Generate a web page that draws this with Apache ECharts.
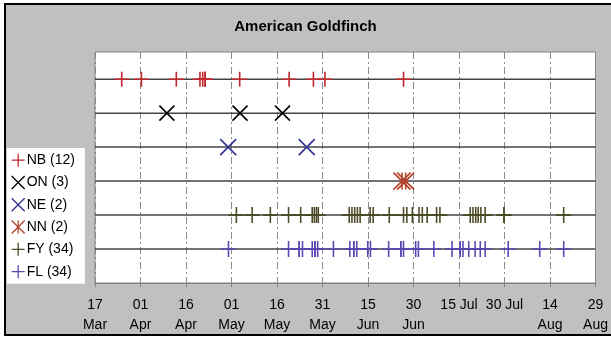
<!DOCTYPE html>
<html>
<head>
<meta charset="utf-8">
<script src="https://cdn.jsdelivr.net/npm/echarts@6/dist/echarts.min.js"></script>
<style>
  html, body { margin: 0; padding: 0; background: #fff; }
  #chart { width: 611px; height: 339px; }
</style>
</head>
<body>
<div id="chart"></div>
<script>
// x values are days counted from 17 Mar
var tickLabels = ['17\nMar', '01\nApr', '16\nApr', '01\nMay', '16\nMay', '31\nMay', '15\nJun', '30\nJun', '15 Jul', '30 Jul', '14\nAug', '29\nAug'];

var groupNames = ['NB (12)', 'ON (3)', 'NE (2)', 'NN (2)', 'FY (34)', 'FL (34)'];
var groupRows = [6, 5, 4, 3, 2, 1];

var nbDays = [8.8, 15.3, 26.8, 34.6, 35.5, 36.3, 36.3, 47.7, 64.0, 72.0, 75.8, 101.7];
var onDays = [23.7, 47.8, 61.8];
var neDays = [43.9, 69.8];
var nnDays = [101.2, 102.4];
var fyDays = [46.6, 51.8, 57.8, 63.8, 67.8, 71.6, 72.3, 73.0, 73.6, 83.8, 84.7, 85.6, 86.5, 87.4,
              90.7, 91.7, 97.0, 101.7, 102.8, 104.6, 106.8, 107.9, 109.5, 112.6, 113.7,
              123.7, 124.6, 125.5, 126.3, 127.2, 128.6, 134.8, 134.8, 154.5];
var flDays = [44.0, 63.8, 67.3, 67.3, 68.4, 71.6, 72.5, 72.5, 73.4, 78.6, 84.0, 85.3, 85.3, 86.3,
              89.9, 90.8, 96.8, 100.8, 100.8, 101.7, 105.7, 106.6, 111.7, 117.7, 120.4, 120.4,
              121.3, 123.2, 125.3, 127.0, 128.6, 136.2, 146.6, 154.5];

var allDays = [nbDays, onDays, neDays, nnDays, fyDays, flDays];
var colors = ['#c1272d', '#000000', '#2e3192', '#b5422a', '#4a4a26', '#5b45b0'];

var plus = 'path://M5,0L5,10M0,5L10,5';
var cross = 'path://M0,0L10,10M10,0L0,10';
var star = 'path://M0,0L10,10M10,0L0,10M5,0L5,10';
var symbols = [plus, cross, cross, star, plus, plus];
var sizes = [[15, 15], [15, 15], [16, 16], [17, 17], [15, 16], [15, 16]];

var xMax = 165;

var chart = echarts.init(document.getElementById('chart'));

var series = [];
// the solid row lines
groupRows.forEach(function (r) {
  series.push({
    type: 'line',
    data: [[0, r], [xMax, r]],
    showSymbol: false,
    silent: true,
    z: 1,
    lineStyle: { color: '#444', width: 1.5 }
  });
});
groupNames.forEach(function (name, i) {
  series.push({
    name: name,
    type: 'scatter',
    z: 3,
    symbol: symbols[i],
    symbolSize: sizes[i],
    itemStyle: { color: 'rgba(0,0,0,0)', borderColor: colors[i], borderWidth: 1.6, opacity: 1 },
    data: allDays[i].map(function (d) { return [d, groupRows[i]]; })
  });
});

var option = {
  backgroundColor: '#fff',
  animation: false,
  graphic: [{
    type: 'rect',
    z: -10,
    silent: true,
    shape: { x: 5, y: 4, width: 620, height: 331 },
    style: { fill: '#c0c0c0', stroke: '#000', lineWidth: 2 }
  }],
  title: {
    text: 'American Goldfinch',
    left: 'center',
    top: 14,
    textStyle: { fontFamily: 'Liberation Sans, Arial', fontSize: 15, fontWeight: 'bold', color: '#000' }
  },
  legend: {
    orient: 'vertical',
    left: 7,
    top: 148,
    backgroundColor: '#fff',
    padding: [5, 10, 5, 4],
    itemWidth: 13,
    itemHeight: 14,
    itemGap: 8,
    data: groupNames.map(function (n, i) {
      return { name: n, icon: symbols[i], itemStyle: { color: 'rgba(0,0,0,0)', borderColor: colors[i], borderWidth: 1.3 } };
    }),
    textStyle: { fontFamily: 'Liberation Sans, Arial', fontSize: 14, color: '#000', padding: [0, 0, 0, -3] }
  },
  grid: {
    left: 95,
    right: 12,
    top: 52,
    bottom: 56,
    show: true,
    backgroundColor: '#fff',
    borderColor: '#808080',
    borderWidth: 1
  },
  xAxis: {
    type: 'value',
    min: 0,
    max: xMax,
    interval: 15,
    axisLine: { show: true, lineStyle: { color: '#808080' } },
    axisTick: { show: true, inside: false, length: 4, lineStyle: { color: '#808080' } },
    splitLine: { show: true, lineStyle: { color: '#8a8a8a', type: [7, 3, 2, 3], width: 1 } },
    axisLabel: {
      margin: 12,
      fontFamily: 'Liberation Sans, Arial',
      fontSize: 14,
      lineHeight: 20,
      color: '#000',
      showMinLabel: true,
      showMaxLabel: true,
      formatter: function (v) { return tickLabels[Math.round(v / 15)]; }
    }
  },
  yAxis: {
    type: 'value',
    min: 0,
    max: 6.8,
    axisLine: { show: false },
    axisTick: { show: false },
    axisLabel: { show: false },
    splitLine: { show: false }
  },
  series: series
};

chart.setOption(option);
</script>
</body>
</html>
